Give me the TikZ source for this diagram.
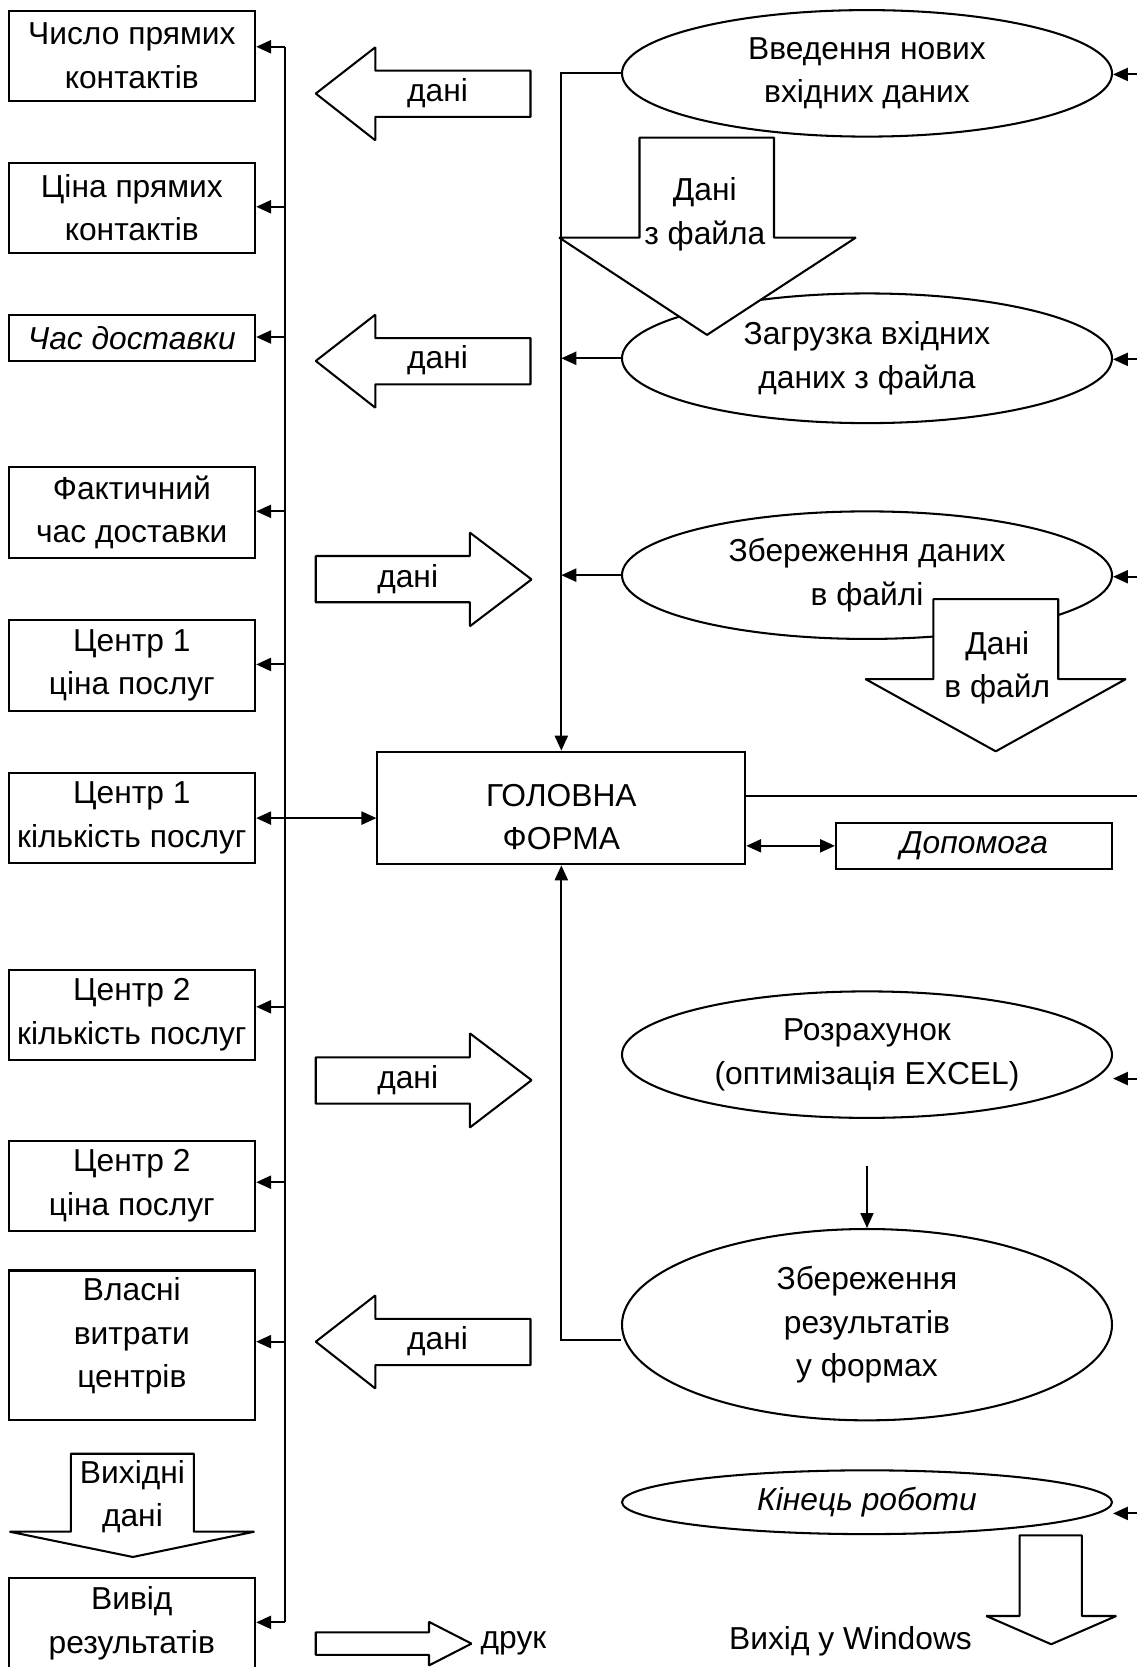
\documentclass[tikz,border=0pt]{standalone}
\usepackage{fontspec}
\setmainfont{Liberation Sans}
\usetikzlibrary{arrows.meta,shapes.geometric}

\begin{document}
\begin{tikzpicture}[x=0.02cm,y=-0.02cm,line width=1.1pt,>={Triangle[length=8pt,width=7pt]},
	every node/.style={font=\fontsize{17}{23.3}\selectfont},
	box/.style={draw,align=center,inner sep=0pt,minimum width=4.64cm,minimum height=1.7cm},
	oval/.style={draw,ellipse,align=center,inner sep=0pt,minimum width=9.22cm},
	fat/.style={draw,fill=white,line join=bevel}]
	\useasboundingbox (0,0) rectangle (1069,1568);

	% left column
	\node[box] (d_1) at (124,52.5) {Число прямих\\контактів};
	\node[box] (d_2) at (124,195.5) {Ціна прямих\\контактів};
	\node[box,minimum height=0.88cm] (d_3) at (124,318) {\itshape Час доставки};
	\node[box] (d_4) at (124,482) {Фактичний\\час доставки};
	\node[box] (d_5) at (124,626) {Центр 1\\ціна послуг};
	\node[box] (d_6) at (124,769.5) {Центр 1\\кількість послуг};
	\node[box] (d_7) at (124,954.5) {Центр 2\\кількість послуг};
	\node[box] (d_8) at (124,1115.5) {Центр 2\\ціна послуг};
	\node[box,minimum height=2.82cm] (d_9) at (124,1265.5) {};
	\node[align=center] (d_9t) at (124,1256.5) {Власні\\витрати\\центрів};
	\node[box,minimum height=1.72cm] (d_10) at (124,1527) {Вивід\\результатів};

	\draw[fat] (124.9,1464.5) -- (9,1440.7) -- (66.6,1440.7) -- (66.6,1367.4) -- (182.4,1367.4)
		-- (182.4,1440.7) -- (239.3,1440.7) -- cycle;
	\node[align=center] (out_t) at (124.6,1407.6) {Вихідні\\дані};

	% bus to the left boxes
	\foreach \n/\y in {1/44,2/194.5,3/317,4/481,5/625,7/947,8/1112,9/1262,10/1526}
		\coordinate (bus_\n) at (268,\y);
	\draw (bus_1) -- (bus_10);
	\foreach \n in {1,2,3,4,5,7,8,9,10}
		\draw[->] (bus_\n) -- (bus_\n -| d_\n.east);

	% data arrows
	\draw[fat] (297,88) -- (353,44.5) -- (353,66.5) -- (499,66.5) -- (499,110) -- (353,110) -- (353,132) -- cycle;
	\node (a_1) at (411.5,87.5) {дані};
	\draw[fat] (297,339.5) -- (353,296) -- (353,318) -- (499,318) -- (499,361.5) -- (353,361.5) -- (353,383.5) -- cycle;
	\node (a_2) at (411.5,339) {дані};
	\draw[fat] (500,545) -- (442,501) -- (442,523) -- (297,523) -- (297,566.5) -- (442,566.5) -- (442,589) -- cycle;
	\node (a_3) at (383.5,544.5) {дані};
	\draw[fat] (500,1016) -- (442,972) -- (442,994.5) -- (297,994.5) -- (297,1038) -- (442,1038) -- (442,1060.5) -- cycle;
	\node (a_4) at (383.5,1016) {дані};
	\draw[fat] (297,1262) -- (353,1218.5) -- (353,1240.5) -- (499,1240.5) -- (499,1284) -- (353,1284) -- (353,1306) -- cycle;
	\node (a_5) at (411.5,1261.5) {дані};
	\draw[fat] (443.5,1546) -- (403.5,1525.5) -- (403.5,1535.5) -- (297,1535.5) -- (297,1556.5) -- (403.5,1556.5) -- (403.5,1566.5) -- cycle;
	\node (print) at (483,1546) {друк};

	% operations
	\node[oval,minimum height=2.38cm] (op_1) at (815.5,69) {Введення нових\\вхідних даних};
	\node[oval,minimum height=2.44cm] (op_2) at (815.5,337) {Загрузка вхідних\\даних з файла};
	\node[oval,minimum height=2.4cm] (op_3) at (815.5,541) {Збереження даних\\в файлі};
	\node[oval,minimum height=2.38cm] (op_4) at (815.5,992) {Розрахунок\\(оптимізація EXCEL)};
	\node[oval,minimum height=3.6cm] (op_5) at (815.5,1246) {Збереження\\результатів\\у формах};
	\node[oval,minimum height=1.2cm] (op_6) at (815.5,1413) {\itshape Кінець роботи};

	\draw[fat] (665,315) -- (526,223.5) -- (601.5,223.5) -- (601.5,129.5) -- (728,129.5)
		-- (728,223.5) -- (805,223.5) -- cycle;
	\node[align=center] (f_in) at (663,201.5) {Дані\\з файла};
	\draw[fat] (936.6,706.7) -- (814,638.7) -- (878,638.7) -- (878,563.5) -- (995.4,563.5)
		-- (995.4,638.7) -- (1059,638.7) -- cycle;
	\node[align=center] (f_out) at (938,628) {Дані\\в файл};
	\draw[fat] (988.8,1546.6) -- (927.7,1520) -- (959,1520) -- (959,1444.2) -- (1017.6,1444.2)
		-- (1017.6,1520) -- (1050,1520) -- cycle;
	\node (win) at (800,1543.5) {Вихід у Windows};

	% main form
	\node[draw,minimum width=6.92cm,minimum height=2.12cm] (main) at (528,760) {};
	\node[align=center] (main_t) at (528,768.5) {ГОЛОВНА\\ФОРМА};
	\node[draw,inner sep=0pt,minimum width=5.2cm,minimum height=0.86cm] (help) at (916.3,795.6) {\itshape Допомога};

	\draw[->] (op_1.west) -- (op_1.west -| main.north) -- (main.north);
	\draw[->] (op_2.west) -- (op_2.west -| main.north);
	\draw[->] (op_3.west) -- (op_3.west -| main.north);
	\coordinate (m_5) at (528,1260);
	\draw[->] (m_5 -| op_5.west) -- (m_5) -- (main.south);
	\draw[<->] (d_6.east) -- (d_6.east -| main.west);
	\draw[<->] (help.west -| main.east) -- (help.west);
	\draw[->,line width=0.8pt] ([yshift=-0.88cm]op_4.south) -- (op_5.north);

	% from the right edge
	\coordinate (r_0) at (1069,749);
	\draw (r_0 -| main.east) -- (r_0);
	\foreach \n/\y in {1/70,2/338,3/542.5,4/1014.5,6/1423.5}
		\coordinate (r_\n) at (1069,\y);
	\foreach \n in {1,2,3,4,6}
		\draw[->] (r_\n) -- (r_\n -| op_\n.east);
\end{tikzpicture}
\end{document}
